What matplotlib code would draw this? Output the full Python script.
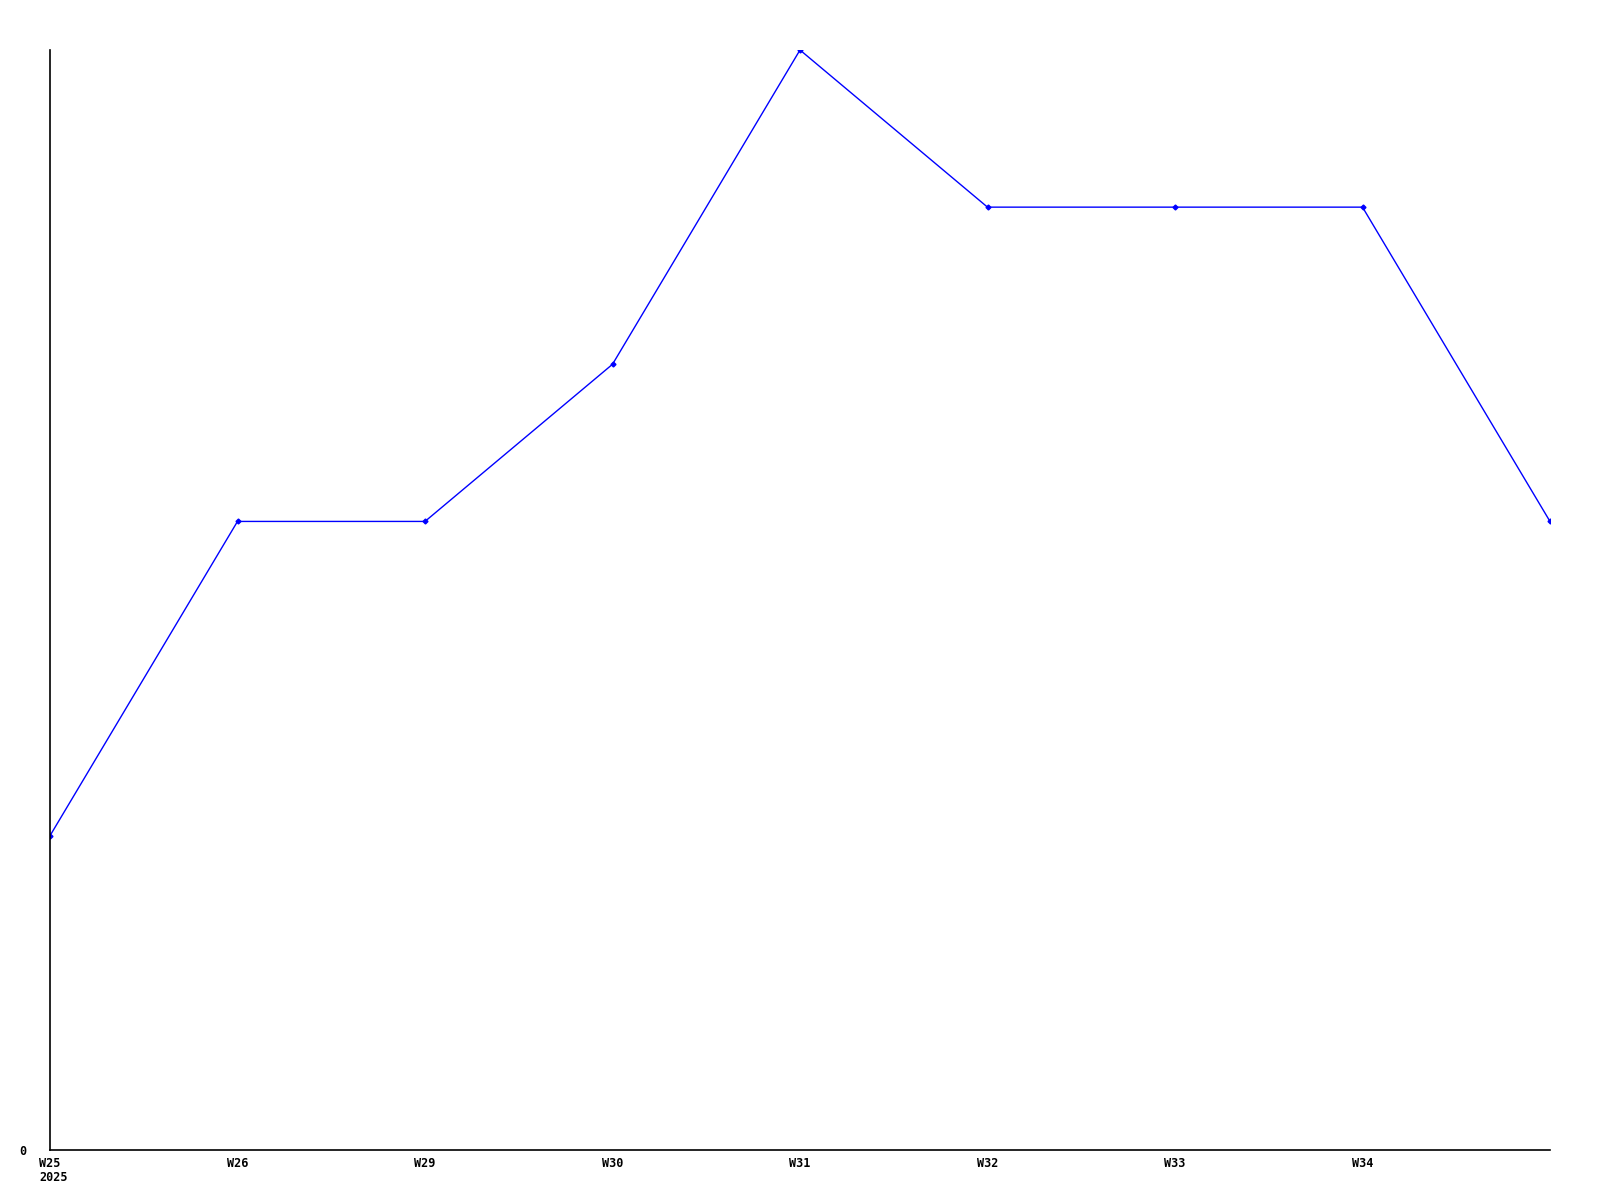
import matplotlib
matplotlib.use("Agg")
import matplotlib.pyplot as plt

weeks = ["W25", "W26", "W29", "W30", "W31", "W32", "W33", "W34", ""]
values = [2, 4, 4, 5, 7, 6, 6, 6, 4]
year_label = "2025"

fig = plt.figure(figsize=(16, 12), dpi=100)
ax = fig.add_axes([50/1600, 50/1200, 1500/1600, 1100/1200])
x = list(range(len(values)))
ax.plot(x, values, color="#0000ff", linewidth=1, marker="D", markersize=2.5)
ax.set_xlim(0, len(values) - 1)
ax.set_ylim(0, 7)
for s in ["top", "right"]:
    ax.spines[s].set_visible(False)
for s in ["left", "bottom"]:
    ax.spines[s].set_linewidth(1.2)
    ax.spines[s].set_color("black")
ax.set_yticks([0])
ax.set_yticklabels(["0"])
ax.set_xticks(x)
ax.set_xticklabels(weeks, ha="center")
ax.tick_params(axis="both", length=0, labelsize=8.5)
ax.tick_params(axis="x", pad=5)
ax.tick_params(axis="y", pad=17)
for lab in ax.get_xticklabels() + ax.get_yticklabels():
    lab.set_family("DejaVu Sans Mono")
    lab.set_fontweight("bold")
ax.annotate(year_label, xy=(0, 0), xycoords=("data", "axes fraction"),
            xytext=(-1.5 * 0.602 * 8.5, -15), textcoords="offset points",
            ha="left", va="top", fontsize=8.5, family="DejaVu Sans Mono",
            fontweight="bold", annotation_clip=False)
fig.savefig("out.png", dpi=100)
